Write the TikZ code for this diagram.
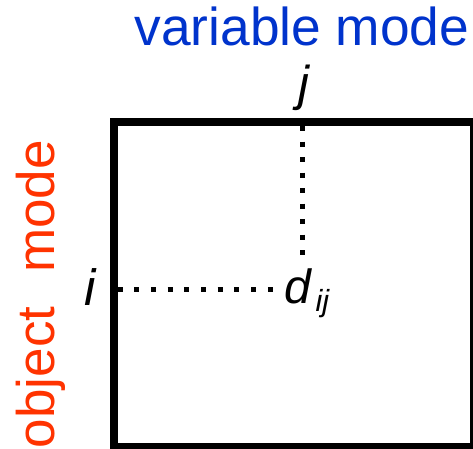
\documentclass[tikz,border=0pt]{standalone}
\usepackage{fontspec}
\setmainfont{Liberation Sans}
\definecolor{varblue}{HTML}{0033CC}
\definecolor{objred}{HTML}{FF3300}
\begin{document}
\begin{tikzpicture}[x=1pt,y=1pt,
  lab/.style={inner sep=0pt, outer sep=0pt},
  frame/.style={draw=black, line width=7.5pt, inner sep=0pt, outer sep=0pt},
  dotv/.style={line width=5pt, dash pattern=on 5pt off 10.5pt},
  doth/.style={line width=5pt, dash pattern=on 5pt off 11.7pt}]
\useasboundingbox (0,0) rectangle (473,-448);
\node[frame, minimum width=360pt, minimum height=324.5pt, anchor=north west] (box) at (114,-122) {};
\node[lab, anchor=base west, text=varblue] (vmode) at (134.5,-45.5) {\fontsize{53.3}{60}\selectfont variable mode};
\node[lab, anchor=base west, text=objred, rotate=90] (omode) at (54,-448) {\fontsize{53}{60}\selectfont object\hspace{34pt}mode};
\node[lab, anchor=base west] (j) at (298,-100) {\fontsize{49}{56}\selectfont\itshape j};
\node[lab, anchor=base west] (i) at (84,-305) {\fontsize{51}{56}\selectfont\itshape i};
\node[lab, anchor=base west] (d) at (284.5,-303) {\fontsize{48}{56}\selectfont\itshape d};
\node[lab, anchor=base west] (ij) at (315.5,-311.5) {\fontsize{30.5}{34}\selectfont\itshape ij};
\coordinate (vs) at (302,-126);
\coordinate (ve) at (302,-255);
\coordinate (hs) at (117.5,-289);
\coordinate (he) at (272.8,-289);
\draw[dotv] (vs) -- (ve);
\draw[doth] (hs) -- (he);
\end{tikzpicture}
\end{document}
